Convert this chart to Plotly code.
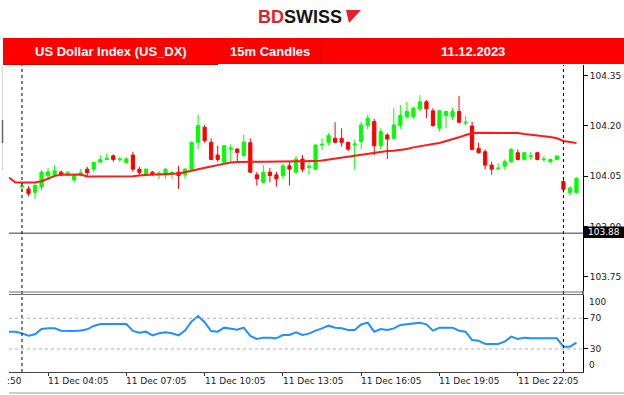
import plotly.graph_objects as go

# ---------------- data ----------------
candle_idx = list(range(86))
opens = [104.019,104.012,104.002,104.018,104.051,104.054,104.062,104.058,104.039,104.055,
         104.071,104.071,104.092,104.100,104.111,104.099,104.091,104.113,104.071,104.054,
         104.062,104.056,104.054,104.057,104.062,104.054,104.071,104.151,104.196,104.151,
         104.113,104.091,104.131,104.131,104.112,104.150,104.054,104.032,104.062,104.054,
         104.051,104.081,104.062,104.101,104.076,104.071,104.143,104.151,104.163,104.163,
         104.151,104.143,104.153,104.201,104.213,104.141,104.173,104.163,104.201,104.228,
         104.228,104.251,104.272,104.245,104.193,104.231,104.228,104.243,104.209,104.200,
         104.133,104.123,104.083,104.072,104.080,104.093,104.120,104.100,104.109,104.120,
         104.099,104.093,104.100,104.034,104.001,104.001]
highs = [104.032,104.020,104.029,104.068,104.074,104.083,104.067,104.065,104.053,104.071,
         104.078,104.093,104.113,104.118,104.115,104.108,104.106,104.123,104.078,104.075,
         104.066,104.066,104.074,104.066,104.081,104.074,104.153,104.233,104.203,104.163,
         104.141,104.143,104.145,104.133,104.174,104.163,104.063,104.083,104.075,104.063,
         104.087,104.093,104.110,104.113,104.093,104.145,104.163,104.179,104.211,104.193,
         104.153,104.158,104.213,104.233,104.221,104.193,104.178,104.253,104.262,104.272,
         104.258,104.292,104.277,104.253,104.248,104.245,104.253,104.290,104.229,104.213,
         104.150,104.130,104.093,104.088,104.100,104.133,104.130,104.123,104.123,104.123,
         104.110,104.102,104.113,104.044,104.021,104.047]
lows = [104.003,103.990,103.982,104.009,104.039,104.049,104.050,104.051,104.031,104.049,
        104.049,104.063,104.091,104.099,104.093,104.092,104.088,104.063,104.053,104.051,
        104.051,104.042,104.042,104.042,104.012,104.042,104.068,104.131,104.150,104.098,
        104.093,104.088,104.091,104.091,104.108,104.059,104.022,104.029,104.032,104.019,
        104.042,104.022,104.059,104.062,104.054,104.068,104.128,104.143,104.148,104.138,
        104.125,104.071,104.131,104.190,104.113,104.130,104.101,104.158,104.191,104.221,
        104.221,104.243,104.223,104.198,104.183,104.193,104.218,104.208,104.202,104.127,
        104.118,104.070,104.054,104.070,104.070,104.090,104.097,104.097,104.098,104.097,
        104.093,104.090,104.098,104.001,103.991,103.998]
closes = [104.021,103.998,104.022,104.062,104.063,104.066,104.054,104.060,104.051,104.060,
          104.060,104.091,104.100,104.103,104.100,104.101,104.102,104.071,104.061,104.071,
          104.054,104.059,104.071,104.061,104.052,104.071,104.151,104.201,104.156,104.100,
          104.100,104.141,104.134,104.121,104.152,104.062,104.042,104.062,104.052,104.042,
          104.081,104.071,104.101,104.071,104.080,104.143,104.145,104.171,104.151,104.151,
          104.131,104.146,104.203,104.223,104.141,104.183,104.161,104.203,104.231,104.243,
          104.253,104.272,104.251,104.201,104.245,104.243,104.243,104.211,104.211,104.130,
          104.120,104.083,104.071,104.074,104.093,104.130,104.100,104.120,104.111,104.100,
          104.101,104.100,104.110,104.011,104.014,104.044]

line_idx = list(range(-2, 86))
ma_values = [104.046,104.031,104.031,104.031,104.031,104.035,104.043,104.051,104.054,104.055,
             104.055,104.055,104.049,104.049,104.049,104.049,104.050,104.050,104.050,104.050,
             104.052,104.054,104.055,104.055,104.055,104.057,104.058,104.061,104.066,104.071,
             104.076,104.079,104.083,104.088,104.091,104.092,104.093,104.093,104.093,104.093,
             104.093,104.093,104.093,104.093,104.093,104.093,104.094,104.095,104.097,104.100,
             104.103,104.106,104.109,104.110,104.113,104.117,104.121,104.123,104.125,104.126,
             104.128,104.131,104.136,104.140,104.143,104.146,104.149,104.154,104.160,104.166,
             104.173,104.178,104.180,104.180,104.180,104.180,104.180,104.180,104.179,104.176,
             104.173,104.171,104.169,104.167,104.163,104.155,104.152,104.149]
rsi_values = [52.6,52.6,50.4,47.4,49.1,56.1,56.9,56.9,53.9,53.5,
              53.5,54.0,55.6,60.0,62.6,62.6,62.6,62.6,62.6,53.5,
              51.3,52.6,47.8,50.4,51.7,50.4,47.8,53.9,66.0,73.0,
              65.0,53.5,52.6,57.8,56.0,55.0,57.8,47.0,43.0,44.8,
              44.8,43.9,48.2,48.2,51.7,48.2,50.0,54.0,56.9,60.4,
              57.8,56.9,54.8,54.8,62.1,64.3,52.6,56.1,54.8,56.9,
              61.3,62.1,63.5,64.3,62.1,53.9,57.8,57.8,57.8,53.9,
              52.6,41.7,40.9,36.5,36.5,36.5,39.5,46.1,43.0,44.8,
              43.9,43.9,43.9,43.9,43.9,33.0,33.0,38.2]

price_ticks = [104.35, 104.20, 104.05, 103.90, 103.75]
rsi_ticks = [70, 30]
time_tick_idx = [4, 16, 28, 40, 52, 64, 76]
time_tick_labels = ["11 Dec 04:05", "11 Dec 07:05", "11 Dec 10:05", "11 Dec 13:05",
                    "11 Dec 16:05", "11 Dec 19:05", "11 Dec 22:05"]
separator_idx = [0, 83]
bid_price = 103.88

title_cells = ["US Dollar Index (US_DX)", "15m Candles", "11.12.2023"]

# ---------------- layout helpers ----------------
W, H = 624, 395
def px(x):
    return x / W
def py(y):
    return 1 - y / H

FONT = "DejaVu Sans"
x_range = [-1.99, 86.0]
main_dom = [py(291), py(65)]
rsi_dom = [py(372), py(295.3)]

fig = go.Figure()

fig.add_trace(go.Candlestick(
    x=candle_idx, open=opens, high=highs, low=lows, close=closes,
    increasing=dict(line=dict(color="#00ff00", width=1), fillcolor="#00ff00"),
    decreasing=dict(line=dict(color="#ff0000", width=1), fillcolor="#ff0000"),
    whiskerwidth=0, showlegend=False, xaxis="x", yaxis="y"))

fig.add_trace(go.Scatter(x=line_idx, y=ma_values, mode="lines",
                         line=dict(color="#ff1a1a", width=2), showlegend=False,
                         xaxis="x", yaxis="y"))

fig.add_trace(go.Scatter(x=line_idx, y=rsi_values, mode="lines",
                         line=dict(color="#1e90ff", width=2), showlegend=False,
                         xaxis="x2", yaxis="y2"))

shapes = []
# header red bar
shapes.append(dict(type="rect", xref="paper", yref="paper", x0=px(3), x1=1, y0=py(64), y1=py(38),
                   fillcolor="#ff0000", line=dict(width=0), layer="above"))
for sx in [218, 321]:
    shapes.append(dict(type="line", xref="paper", yref="paper", x0=px(sx), x1=px(sx),
                       y0=py(64), y1=py(38), line=dict(color="#d40000", width=1), layer="above"))
shapes.append(dict(type="line", xref="paper", yref="paper", x0=px(3), x1=px(218),
                   y0=py(64.5), y1=py(64.5), line=dict(color="#c80000", width=1), layer="above"))
# logo arrow
shapes.append(dict(type="path", xref="paper", yref="paper",
                   path=f"M {px(346)},{py(10)} L {px(361)},{py(10)} L {px(349)},{py(23)} Z",
                   fillcolor="#e4202b", line=dict(width=0), layer="above"))
# bid line
shapes.append(dict(type="line", xref="paper", yref="y", x0=px(9), x1=px(583),
                   y0=bid_price, y1=bid_price, line=dict(color="#7a7a7a", width=1.5)))
# separator lines
for sx in separator_idx:
    shapes.append(dict(type="line", xref="x", yref="paper", x0=sx, x1=sx,
                       y0=py(372), y1=py(65), line=dict(color="#000000", width=1, dash="dot")))
# rsi level lines
for lv in rsi_ticks:
    shapes.append(dict(type="line", xref="paper", yref="y2", x0=px(9), x1=px(583),
                       y0=lv, y1=lv, line=dict(color="#b0b0b0", width=1, dash="dot")))
# panel separator
for yy in [292, 294.5]:
    shapes.append(dict(type="line", xref="paper", yref="paper", x0=px(9), x1=px(583),
                       y0=py(yy), y1=py(yy), line=dict(color="#6e6e6e", width=1.2)))
shapes.append(dict(type="line", xref="paper", yref="paper", x0=px(583), x1=px(583),
                   y0=py(295), y1=py(291), line=dict(color="#000000", width=1)))
# bottom line
shapes.append(dict(type="line", xref="paper", yref="paper", x0=px(9), x1=1,
                   y0=py(393), y1=py(393), line=dict(color="#9a9a9a", width=1)))
# left edge artifacts
shapes.append(dict(type="line", xref="paper", yref="paper", x0=px(2.5), x1=px(2.5),
                   y0=py(170), y1=py(66), line=dict(color="#d8d8d8", width=1)))
shapes.append(dict(type="line", xref="paper", yref="paper", x0=px(2.5), x1=px(2.5),
                   y0=py(143), y1=py(120), line=dict(color="#666666", width=1.5)))
# bid label box
shapes.append(dict(type="rect", xref="paper", yref="paper", x0=px(584), x1=1,
                   y0=py(238), y1=py(226.5), fillcolor="#000000", line=dict(width=0), layer="above"))

annotations = []
annotations.append(dict(xref="paper", yref="paper", x=px(300), y=py(16.5), showarrow=False,
                        xanchor="center", yanchor="middle",
                        text="<b><span style='color:#e4202b'>BD</span>SWISS</b>",
                        font=dict(family="Liberation Sans", size=18, color="#151515")))
cell_centers = [111, 270, 473]
for txt, cx in zip(title_cells, cell_centers):
    annotations.append(dict(xref="paper", yref="paper", x=px(cx), y=py(51), showarrow=False,
                            xanchor="center", yanchor="middle",
                            text=f"<b>{txt}</b>",
                            font=dict(family="Liberation Sans", size=13, color="#ffffff")))
annotations.append(dict(xref="paper", yref="paper", x=px(604), y=py(232.3), showarrow=False,
                        xanchor="center", yanchor="middle",
                        text=f"{bid_price:.2f}", font=dict(family=FONT, size=9, color="#ffffff")))
for ti, tl in zip(time_tick_idx, time_tick_labels):
    annotations.append(dict(xref="x2", yref="paper", x=ti, y=py(381), xanchor="left",
                            yanchor="middle", showarrow=False, text=tl, xshift=-2,
                            font=dict(family=FONT, size=9, color="#1a1a1a")))
annotations.append(dict(xref="paper", yref="paper", x=px(24), y=py(381), xanchor="right",
                        yanchor="middle", showarrow=False, text=":50",
                        font=dict(family=FONT, size=9, color="#1a1a1a")))
annotations.append(dict(xref="paper", yref="y2", x=px(587), y=100, xanchor="left",
                        yanchor="top", showarrow=False, text="100",
                        font=dict(family=FONT, size=9, color="#1a1a1a")))
annotations.append(dict(xref="paper", yref="y2", x=px(587), y=0, xanchor="left",
                        yanchor="bottom", showarrow=False, text="0",
                        font=dict(family=FONT, size=9, color="#1a1a1a")))

fig.update_layout(
    width=W, height=H, margin=dict(l=0, r=0, t=0, b=0),
    paper_bgcolor="white", plot_bgcolor="white", showlegend=False,
    boxgap=0.3, boxgroupgap=0.3,
    xaxis=dict(domain=[px(9), px(583)], range=x_range, showticklabels=False,
               showgrid=False, zeroline=False, showline=False, ticks="",
               rangeslider=dict(visible=False), anchor="y"),
    yaxis=dict(domain=main_dom, range=[103.7073, 104.3819], side="right",
               tickvals=price_ticks, ticktext=[f"{v:.2f}" for v in price_ticks],
               ticks="outside", ticklen=4, tickcolor="#000000",
               tickfont=dict(family=FONT, size=9, color="#1a1a1a"),
               showgrid=False, zeroline=False, showline=True, linecolor="#000000",
               linewidth=1, anchor="x"),
    xaxis2=dict(domain=[px(9), px(583)], range=x_range, showticklabels=False,
                tickvals=time_tick_idx, ticks="outside", ticklen=3, tickcolor="#333333",
                showgrid=False, zeroline=False, showline=True, linecolor="#444444",
                linewidth=1, anchor="y2"),
    yaxis2=dict(domain=rsi_dom, range=[0, 100], side="right",
                tickvals=rsi_ticks, ticktext=[str(v) for v in rsi_ticks],
                ticks="outside", ticklen=4, tickcolor="#000000",
                tickfont=dict(family=FONT, size=9, color="#1a1a1a"),
                showgrid=False, zeroline=False, showline=True, linecolor="#000000",
                linewidth=1, anchor="x2"),
    shapes=shapes, annotations=annotations,
)

fig.write_html("out.html")
